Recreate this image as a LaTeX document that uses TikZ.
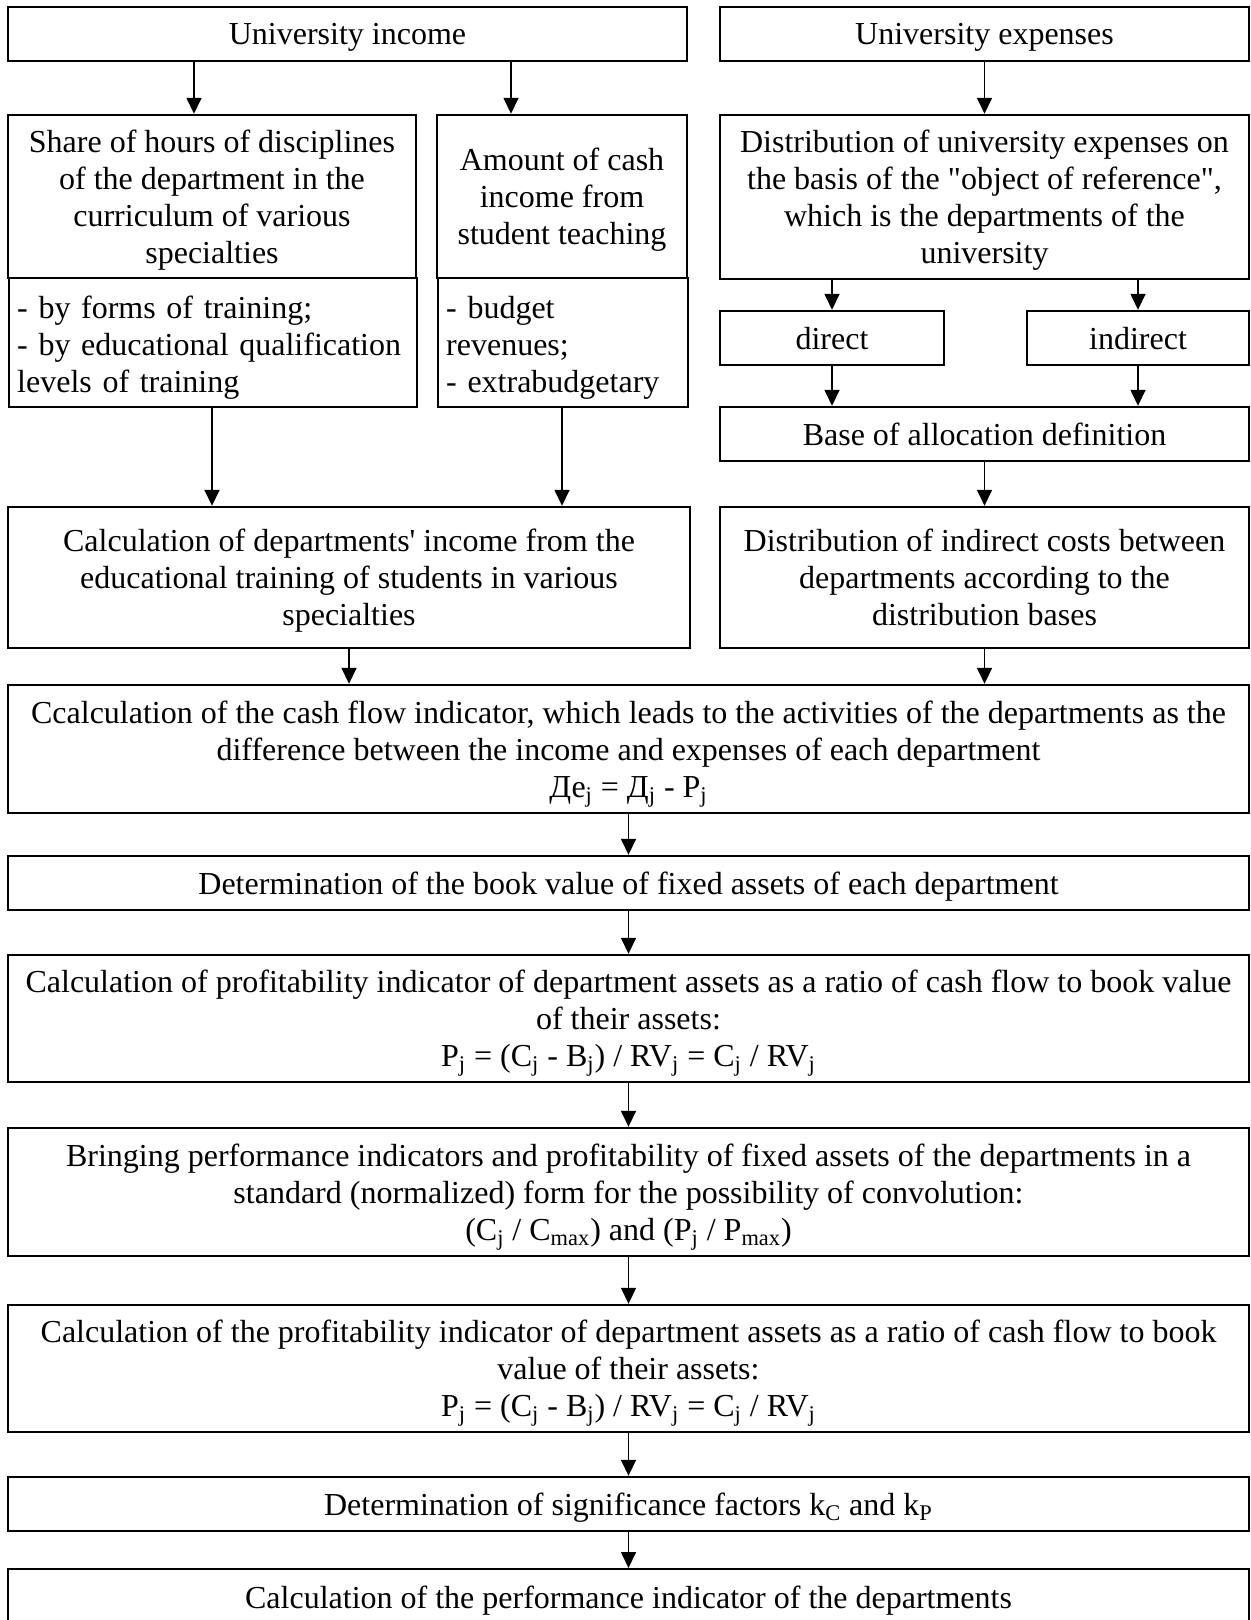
\documentclass[tikz,border=0pt]{standalone}
\usepackage{fontspec}
\setmainfont{Liberation Serif}
\newfontfamily\boxfont{Liberation Serif}
\usetikzlibrary{arrows.meta}

\tikzset{
  bx/.style={draw, line width=1.2pt, inner xsep=3pt, inner ysep=1pt,
    font=\boxfont\fontsize{16}{18.5}\selectfont},
  blk/.style={bx, align=center, text depth=-1.7pt},
  lst/.style={bx, align=left, anchor=west, inner xsep=4pt,
    execute at begin node={\rule{0pt}{16pt}}},
  arr/.style={line width=0.8pt, -{Triangle[length=8pt,width=7.5pt]}}
}

\begin{document}
\begin{tikzpicture}[x=0.5pt,y=0.5pt,yscale=-1,xscale=1]
\useasboundingbox (0,0) rectangle (1251,1620);
\clip (0,0) rectangle (1251,1620);

% income side
\node[blk, minimum width=339.5pt, minimum height=27pt] (inc) at (347.5,34) {University income};
\node[blk, minimum width=204pt, minimum height=81.5pt] (share) at (212,196.5) {Share of hours of disciplines\\of the department in the\\curriculum of various\\specialties};
\node[lst, text width=196pt, minimum height=64.5pt] (shareb) at (8,342.5) {- by forms of training;\\- by educational qualification\\levels of training};
\node[blk, minimum width=125pt, minimum height=81.5pt] (cash) at (562,196.5) {Amount of cash\\income from\\student teaching};
\node[lst, text width=117pt, minimum height=64.5pt] (cashb) at (437,342.5) {- budget\\revenues;\\- extrabudgetary};
\node[blk, minimum width=341pt, minimum height=70.5pt] (calcinc) at (349,577.5) {Calculation of departments' income from the\\educational training of students in various\\specialties};

% expenses side
\node[blk, minimum width=264.5pt, minimum height=27pt] (exp) at (984.5,34) {University expenses};
\node[blk, minimum width=264.5pt, minimum height=82pt] (dist) at (984.5,197) {Distribution of university expenses on\\the basis of the "object of reference",\\which is the departments of the\\university};
\node[blk, minimum width=112pt, minimum height=27pt] (direct) at (832,338) {direct};
\node[blk, minimum width=111pt, minimum height=27pt] (indirect) at (1138,338) {indirect};
\node[blk, minimum width=264.5pt, minimum height=27pt] (base) at (984.5,434) {Base of allocation definition};
\node[blk, minimum width=264.5pt, minimum height=70.5pt] (distind) at (984.5,577.5) {Distribution of indirect costs between\\departments according to the\\distribution bases};

% common chain
\node[blk, minimum width=620.5pt, minimum height=64pt] (flow) at (628.5,749) {Ccalculation of the cash flow indicator, which leads to the activities of the departments as the\\difference between the income and expenses of each department\\Де\textsubscript{j} = Д\textsubscript{j} - P\textsubscript{j}};
\node[blk, minimum width=620.5pt, minimum height=27pt] (book) at (628.5,883) {Determination of the book value of fixed assets of each department};
\node[blk, minimum width=620.5pt, minimum height=63.5pt] (prof) at (628.5,1018.5) {Calculation of profitability indicator of department assets as a ratio of cash flow to book value\\of their assets:\\P\textsubscript{j} = (C\textsubscript{j} - B\textsubscript{j}) / RV\textsubscript{j} = C\textsubscript{j} / RV\textsubscript{j}};
\node[blk, minimum width=620.5pt, minimum height=64pt] (bring) at (628.5,1192) {Bringing performance indicators and profitability of fixed assets of the departments in a\\standard (normalized) form for the possibility of convolution:\\(C\textsubscript{j} / C\textsubscript{max}) and (P\textsubscript{j} / P\textsubscript{max})};
\node[blk, minimum width=620.5pt, minimum height=63.5pt] (prof2) at (628.5,1368.5) {Calculation of the profitability indicator of department assets as a ratio of cash flow to book\\value of their assets:\\P\textsubscript{j} = (C\textsubscript{j} - B\textsubscript{j}) / RV\textsubscript{j} = C\textsubscript{j} / RV\textsubscript{j}};
\node[blk, minimum width=620.5pt, minimum height=27pt] (sig) at (628.5,1504) {Determination of significance factors k\textsubscript{C} and k\textsubscript{P}};
\node[blk, minimum width=620.5pt, minimum height=28pt, anchor=north] (perf) at (628.5,1568) {Calculation of the performance indicator of the departments};

% arrows
\draw[arr] (194,0 |- inc.south) -- (194,0 |- share.north);
\draw[arr] (511,0 |- inc.south) -- (511,0 |- cash.north);
\draw[arr] (shareb.south -| share.south) -- (calcinc.north -| share.south);
\draw[arr] (cashb.south -| cash.south) -- (calcinc.north -| cash.south);
\draw[arr] (exp) -- (dist);
\draw[arr] (dist.south -| direct) -- (direct);
\draw[arr] (dist.south -| indirect) -- (indirect);
\draw[arr] (direct) -- (base.north -| direct);
\draw[arr] (indirect) -- (base.north -| indirect);
\draw[arr] (base) -- (distind);
\draw[arr] (calcinc) -- (flow.north -| calcinc);
\draw[arr] (distind) -- (flow.north -| distind);
\draw[arr] (flow) -- (book);
\draw[arr] (book) -- (prof);
\draw[arr] (prof) -- (bring);
\draw[arr] (bring) -- (prof2);
\draw[arr] (prof2) -- (sig);
\draw[arr] (sig) -- (perf);

\end{tikzpicture}
\end{document}
